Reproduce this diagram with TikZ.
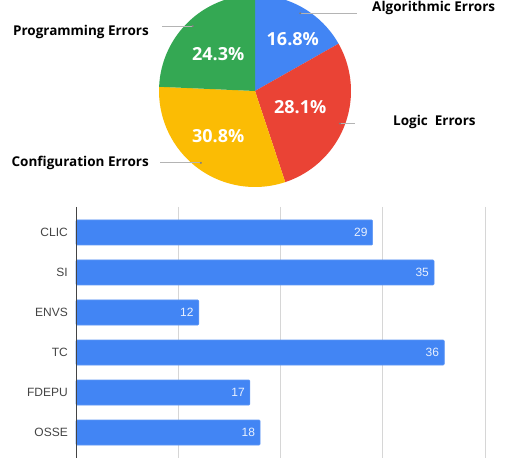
\documentclass[tikz,border=0pt]{standalone}
\usepackage{fontspec}
\setmainfont{Open Sans}
\newfontfamily\barfont{Liberation Sans}

\definecolor{gblue}{HTML}{4285F4}
\definecolor{gred}{HTML}{EA4335}
\definecolor{gyellow}{HTML}{FBBC04}
\definecolor{ggreen}{HTML}{34A853}
\definecolor{leadgray}{HTML}{B4B4B4}
\definecolor{gridgray}{HTML}{D6D6D6}
\definecolor{axisgray}{HTML}{444444}

\begin{document}
\begin{tikzpicture}[x=1pt, y=1pt,
  slicetext/.style={text=white, inner sep=0pt, font=\bfseries\fontsize{18}{20}\selectfont},
  pielabel/.style={text=black, inner sep=0pt, font=\bfseries\fontsize{13.5}{15}\selectfont},
  leader/.style={draw=leadgray, line width=0.8pt},
  bar/.style={fill=gblue, draw=gblue!85!white, line width=0.6pt, rounded corners=1pt},
  catlabel/.style={text=axisgray, anchor=east, inner sep=0pt, font=\barfont\fontsize{12}{14}\selectfont},
  barvalue/.style={text=white!88!gblue, anchor=east, inner sep=0pt, font=\barfont\fontsize{12}{14}\selectfont}]

  \fill[white] (0,0) rectangle (513,463);
  \clip (0,0) rectangle (513,463);

  % Pie of error kinds
  \coordinate (c) at (255,372);
  \fill[gblue]   (c) -- ++(90:96)     arc[start angle=90,     end angle=29.52,   radius=96pt] -- cycle;
  \fill[gred]    (c) -- ++(29.52:96)  arc[start angle=29.52,  end angle=-71.64,  radius=96pt] -- cycle;
  \fill[gyellow] (c) -- ++(-71.64:96) arc[start angle=-71.64, end angle=-182.52, radius=96pt] -- cycle;
  \fill[ggreen]  (c) -- ++(177.48:96) arc[start angle=177.48, end angle=90,      radius=96pt] -- cycle;

  % Shares
  \node[slicetext] (p-algo)   at ([shift={(53.8:64)}]c)  {16.8\%};
  \node[slicetext] (p-logic)  at ([shift={(-19.6:48)}]c) {28.1\%};
  \node[slicetext] (p-config) at ([shift={(230.6:58)}]c) {30.8\%};
  \node[slicetext] (p-prog)   at ([shift={(135:52)}]c)   {24.3\%};

  % Slice names with leaders
  \node[pielabel, anchor=west] (algo)   at (372,455) {Algorithmic Errors};
  \node[pielabel, anchor=east] (prog)   at (149,431) {Programming Errors};
  \node[pielabel, anchor=west] (logic)  at (393,341) {Logic~~Errors};
  \node[pielabel, anchor=east] (config) at (149,300) {Configuration Errors};

  \coordinate (algo-tip)   at ([shift={(59.76:90)}]c);
  \coordinate (prog-tip)   at ([shift={(133.8:90)}]c);
  \coordinate (logic-tip)  at ([shift={(-21:91)}]c);
  \coordinate (config-tip) at ([shift={(233:90)}]c);
  \coordinate (algo-end)   at (357,0);
  \coordinate (prog-end)   at (162,0);
  \coordinate (logic-end)  at (355,0);
  \coordinate (config-end) at (160,0);

  \foreach \k in {algo, prog, logic, config} {
    \draw[leader] (\k-tip) -- (\k-tip -| \k-end);
    \fill[leadgray!70!black] (\k-tip) circle (1.1pt);
  }

  % Bar chart: grid, bars, axis
  \foreach \g in {1,...,4}
    \draw[gridgray, line width=0.9pt] (76+102.3*\g,256) -- (76+102.3*\g,5);

  \foreach \name/\val [count=\i] in {CLIC/29, SI/35, ENVS/12, TC/36, FDEPU/17, OSSE/18} {
    \pgfmathsetmacro\yc{270.5-40*\i}
    \draw[bar] (76,\yc-12.5) rectangle (76+10.23*\val,\yc+12.5);
    \node[catlabel] (cat-\i) at (68,\yc) {\name};
    \node[barvalue] (val-\i) at (71+10.23*\val,\yc) {\val};
  }

  \draw[axisgray, line width=1pt] (76,256) -- (76,5);
\end{tikzpicture}
\end{document}
